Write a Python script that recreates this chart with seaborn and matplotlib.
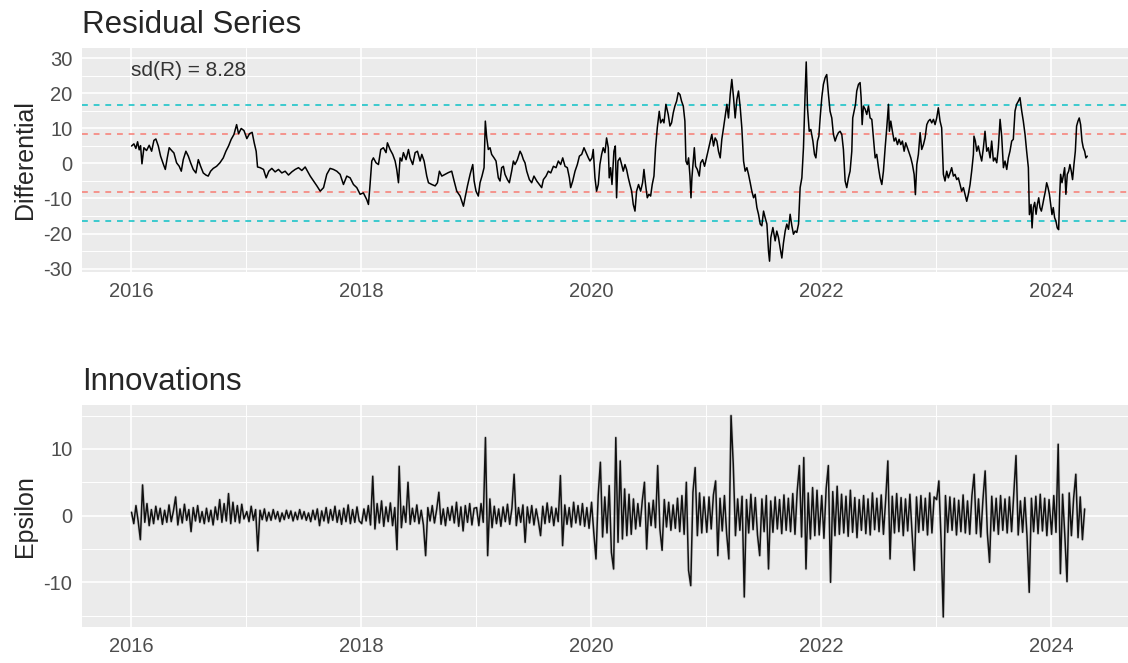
import matplotlib
matplotlib.use("Agg")
import matplotlib.pyplot as plt
import matplotlib.dates as mdates
import seaborn as sns
import pandas as pd

# residual series (decimal year, value)
res_year = [
    2016.006, 2016.026, 2016.043, 2016.058, 2016.072, 2016.084, 2016.096, 2016.113, 2016.136, 2016.159,
    2016.180, 2016.200, 2016.217, 2016.238, 2016.258, 2016.281, 2016.299, 2016.316, 2016.333, 2016.354,
    2016.374, 2016.397, 2016.420, 2016.438, 2016.455, 2016.478, 2016.499, 2016.519, 2016.542, 2016.565,
    2016.586, 2016.606, 2016.629, 2016.652, 2016.672, 2016.693, 2016.716, 2016.745, 2016.774, 2016.803,
    2016.826, 2016.849, 2016.872, 2016.896, 2016.919, 2016.936, 2016.959, 2016.983, 2017.006, 2017.029,
    2017.052, 2017.070, 2017.087, 2017.099, 2017.122, 2017.151, 2017.174, 2017.197, 2017.223, 2017.252,
    2017.281, 2017.310, 2017.339, 2017.368, 2017.397, 2017.426, 2017.455, 2017.484, 2017.513, 2017.542,
    2017.557, 2017.586, 2017.615, 2017.644, 2017.673, 2017.701, 2017.730, 2017.759, 2017.788, 2017.817,
    2017.846, 2017.875, 2017.904, 2017.933, 2017.962, 2017.991, 2018.020, 2018.049, 2018.064, 2018.078,
    2018.093, 2018.107, 2018.130, 2018.151, 2018.171, 2018.194, 2018.217, 2018.229, 2018.252, 2018.275,
    2018.296, 2018.310, 2018.325, 2018.339, 2018.354, 2018.368, 2018.391, 2018.412, 2018.426, 2018.449,
    2018.470, 2018.490, 2018.513, 2018.528, 2018.548, 2018.571, 2018.586, 2018.615, 2018.644, 2018.664,
    2018.681, 2018.702, 2018.731, 2018.759, 2018.788, 2018.809, 2018.832, 2018.861, 2018.890, 2018.904,
    2018.925, 2018.948, 2018.971, 2018.983, 2019.000, 2019.020, 2019.035, 2019.052, 2019.070, 2019.081,
    2019.093, 2019.107, 2019.122, 2019.136, 2019.157, 2019.174, 2019.194, 2019.209, 2019.223, 2019.238,
    2019.252, 2019.273, 2019.290, 2019.310, 2019.325, 2019.339, 2019.360, 2019.383, 2019.397, 2019.412,
    2019.426, 2019.441, 2019.464, 2019.484, 2019.504, 2019.528, 2019.551, 2019.571, 2019.586, 2019.609,
    2019.629, 2019.650, 2019.673, 2019.696, 2019.716, 2019.736, 2019.754, 2019.774, 2019.794, 2019.812,
    2019.823, 2019.841, 2019.861, 2019.881, 2019.899, 2019.919, 2019.939, 2019.957, 2019.977, 2019.991,
    2020.009, 2020.020, 2020.035, 2020.049, 2020.064, 2020.078, 2020.093, 2020.107, 2020.122, 2020.136,
    2020.151, 2020.159, 2020.171, 2020.183, 2020.200, 2020.212, 2020.223, 2020.235, 2020.252, 2020.267,
    2020.281, 2020.296, 2020.310, 2020.325, 2020.339, 2020.354, 2020.368, 2020.383, 2020.397, 2020.414,
    2020.432, 2020.449, 2020.461, 2020.475, 2020.490, 2020.504, 2020.519, 2020.533, 2020.548, 2020.562,
    2020.577, 2020.594, 2020.606, 2020.623, 2020.635, 2020.652, 2020.672, 2020.687, 2020.701, 2020.716,
    2020.730, 2020.745, 2020.759, 2020.774, 2020.788, 2020.803, 2020.817, 2020.826, 2020.838, 2020.849,
    2020.861, 2020.870, 2020.878, 2020.890, 2020.899, 2020.910, 2020.925, 2020.942, 2020.954, 2020.971,
    2020.988, 2021.006, 2021.023, 2021.035, 2021.049, 2021.064, 2021.078, 2021.093, 2021.107, 2021.122,
    2021.136, 2021.151, 2021.165, 2021.180, 2021.194, 2021.209, 2021.223, 2021.238, 2021.252, 2021.267,
    2021.281, 2021.296, 2021.310, 2021.325, 2021.339, 2021.354, 2021.368, 2021.383, 2021.397, 2021.412,
    2021.426, 2021.441, 2021.455, 2021.470, 2021.484, 2021.499, 2021.513, 2021.528, 2021.542, 2021.551,
    2021.562, 2021.580, 2021.600, 2021.614, 2021.629, 2021.643, 2021.658, 2021.672, 2021.687, 2021.701,
    2021.716, 2021.730, 2021.745, 2021.759, 2021.774, 2021.788, 2021.803, 2021.817, 2021.832, 2021.846,
    2021.861, 2021.870, 2021.881, 2021.896, 2021.910, 2021.928, 2021.942, 2021.954, 2021.968, 2021.980,
    2021.991, 2022.006, 2022.020, 2022.035, 2022.049, 2022.064, 2022.078, 2022.093, 2022.107, 2022.122,
    2022.136, 2022.151, 2022.165, 2022.180, 2022.194, 2022.209, 2022.223, 2022.238, 2022.252, 2022.267,
    2022.275, 2022.287, 2022.299, 2022.310, 2022.325, 2022.339, 2022.348, 2022.357, 2022.368, 2022.383,
    2022.397, 2022.412, 2022.426, 2022.441, 2022.455, 2022.470, 2022.484, 2022.499, 2022.513, 2022.528,
    2022.542, 2022.557, 2022.571, 2022.586, 2022.594, 2022.606, 2022.620, 2022.635, 2022.649, 2022.664,
    2022.678, 2022.693, 2022.707, 2022.722, 2022.736, 2022.751, 2022.765, 2022.780, 2022.794, 2022.809,
    2022.820, 2022.832, 2022.846, 2022.861, 2022.875, 2022.890, 2022.904, 2022.919, 2022.933, 2022.948,
    2022.962, 2022.977, 2022.991, 2023.006, 2023.020, 2023.035, 2023.049, 2023.064, 2023.078, 2023.093,
    2023.107, 2023.122, 2023.136, 2023.151, 2023.165, 2023.180, 2023.194, 2023.209, 2023.223, 2023.238,
    2023.252, 2023.267, 2023.281, 2023.296, 2023.310, 2023.325, 2023.330, 2023.342, 2023.354, 2023.368,
    2023.383, 2023.397, 2023.412, 2023.426, 2023.441, 2023.455, 2023.470, 2023.484, 2023.499, 2023.513,
    2023.528, 2023.542, 2023.557, 2023.571, 2023.586, 2023.600, 2023.615, 2023.629, 2023.643, 2023.658,
    2023.672, 2023.687, 2023.701, 2023.716, 2023.730, 2023.745, 2023.759, 2023.774, 2023.788, 2023.803,
    2023.812, 2023.826, 2023.835, 2023.846, 2023.858, 2023.870, 2023.881, 2023.893, 2023.904, 2023.916,
    2023.928, 2023.939, 2023.951, 2023.962, 2023.974, 2023.986, 2023.997, 2024.009, 2024.020, 2024.032,
    2024.043, 2024.055, 2024.067, 2024.075, 2024.084, 2024.096, 2024.107, 2024.119, 2024.130, 2024.142,
    2024.154, 2024.165, 2024.177, 2024.188, 2024.200, 2024.212, 2024.223, 2024.235, 2024.246, 2024.258,
    2024.270, 2024.281, 2024.293, 2024.304, 2024.316,
]
res_val = [
    5.0, 5.6, 4.3, 6.2, 3.9, 5.1, -0.1, 4.5, 3.7, 5.2,
    3.5, 6.6, 7.0, 5.0, 2.1, -0.1, -1.7, 1.6, 4.5, 3.7,
    3.0, 0.2, -0.8, -2.2, 1.1, 3.5, 2.1, 0.2, -1.7, -2.7,
    1.1, -0.8, -2.7, -3.3, -3.6, -2.2, -1.4, -0.8, 0.2, 1.6,
    3.5, 5.0, 6.9, 8.3, 11.1, 8.5, 10.0, 9.4, 7.1, 8.5,
    8.9, 5.9, 3.5, -1.0, -1.2, -1.7, -4.1, -2.2, -1.4, -2.4,
    -1.7, -2.7, -2.2, -3.3, -2.4, -1.7, -1.2, -2.0, -1.0, -2.7,
    -3.6, -5.0, -6.4, -7.9, -6.9, -3.1, -1.4, -1.7, -2.2, -3.1,
    -6.0, -3.6, -4.1, -6.0, -6.9, -8.8, -8.4, -10.3, -11.7, -6.0,
    0.7, 1.6, 0.2, -0.3, 4.0, 4.5, 3.1, 5.9, 4.0, 2.6,
    0.7, -1.7, -5.5, 1.6, 0.7, 3.1, 1.1, 4.0, 1.6, -0.3,
    3.1, 3.5, 0.7, 2.6, 0.7, -3.6, -5.5, -6.0, -6.4, -5.5,
    -2.2, -3.6, -3.1, -2.6, -2.2, -5.0, -7.9, -9.3, -12.2, -9.8,
    -6.4, -3.1, -0.3, -5.0, -7.9, -9.3, -5.5, -3.6, -1.2, 12.1,
    7.4, 4.0, 4.5, 2.6, 1.6, 0.7, -4.1, -5.0, -1.2, -0.8,
    -3.1, -4.6, -5.5, -2.2, 0.7, -0.3, 1.1, 3.5, 2.6, 1.1,
    0.2, -2.2, -4.6, -5.5, -3.6, -5.0, -6.0, -6.9, -4.6, -3.6,
    -2.2, -2.7, -0.8, -1.2, 0.7, -0.3, 1.6, -0.8, -1.2, -4.1,
    -6.9, -5.0, -2.2, -0.3, 2.1, 2.6, 4.5, 3.1, 1.6, 0.7,
    1.6, 4.0, -4.1, -7.9, -6.0, -0.3, 2.6, 4.5, 3.1, 7.3,
    4.5, -4.1, -1.2, -6.0, 3.5, 5.0, -9.8, 0.7, 1.6, -0.3,
    -2.2, -0.3, -1.7, -4.1, -6.0, -7.9, -11.7, -13.6, -7.9, -6.0,
    -7.9, -5.5, -1.7, -6.0, -9.8, -8.8, -9.3, -6.0, -3.6, 4.5,
    10.2, 14.9, 11.6, 12.6, 11.6, 16.9, 14.0, 10.7, 11.6, 14.5,
    16.4, 17.8, 20.2, 19.7, 17.8, 16.4, 12.1, 0.7, -0.3, 1.6,
    -3.6, -9.8, -4.1, 0.7, 4.5, -0.8, -1.7, -3.6, 0.2, 1.1,
    -0.8, 2.1, 4.5, 6.4, 8.3, 5.0, 7.3, 6.4, 3.5, 1.6,
    6.9, 10.2, 13.5, 16.9, 13.0, 19.7, 24.0, 18.8, 13.0, 18.3,
    20.7, 16.0, 10.2, 0.7, -2.2, -1.2, -3.1, -5.5, -7.9, -9.8,
    -8.8, -12.6, -14.5, -17.3, -17.8, -13.6, -15.5, -17.3, -25.0, -27.9,
    -21.2, -18.3, -22.1, -19.3, -21.2, -24.1, -27.0, -22.7, -19.3, -17.3,
    -18.8, -14.5, -17.8, -20.2, -19.3, -19.7, -17.3, -6.9, -4.1, 4.5,
    20.7, 29.0, 15.9, 9.2, 9.7, 6.4, 2.6, 1.6, 6.4, 7.8,
    13.0, 18.8, 22.6, 24.5, 25.4, 19.7, 14.9, 13.0, 8.3, 6.4,
    7.8, 8.8, 9.2, 8.3, 4.0, -5.0, -6.9, -4.1, -2.2, 3.5,
    13.0, 14.9, 16.9, 20.7, 22.6, 23.1, 18.8, 11.1, 16.4, 15.5,
    14.0, 16.4, 13.0, 12.6, 7.3, 1.6, 2.6, -1.2, -4.1, -6.0,
    -2.2, 4.5, 10.2, 16.9, 9.2, 12.1, 9.2, 6.4, 7.3, 5.4,
    6.9, 5.4, 6.4, 3.5, 5.9, 4.5, 3.1, 1.6, -0.3, -3.1,
    -8.9, -0.3, 2.6, 8.8, 4.0, 5.4, 7.3, 11.1, 12.1, 12.6,
    11.6, 12.6, 11.1, 13.0, 15.9, 12.1, 10.2, -3.1, -5.0, -2.2,
    -4.1, -2.7, -1.2, -3.6, -3.1, -4.6, -4.1, -6.0, -7.9, -6.9,
    -8.8, -10.8, -8.8, -6.0, -2.2, 2.6, 7.8, 6.4, 3.5, 5.0,
    2.6, 0.7, 4.5, 9.2, 3.5, 4.5, 1.6, 6.4, 0.7, 1.6,
    0.2, 4.5, 12.6, 7.8, -1.2, 0.7, -1.7, 1.6, 3.5, 6.4,
    6.9, 15.0, 16.9, 17.8, 18.8, 15.0, 12.1, 8.3, 3.5, -1.2,
    -14.6, -11.7, -18.4, -12.6, -11.1, -14.5, -11.7, -9.8, -12.6, -13.6,
    -11.7, -9.8, -7.9, -5.5, -6.9, -8.8, -11.7, -14.6, -12.6, -15.5,
    -16.4, -18.4, -18.9, -9.8, -3.1, -5.5, -3.6, -1.2, -8.8, -3.1,
    -2.2, -0.3, -2.2, -4.6, -0.3, 3.5, 10.7, 12.1, 13.0, 11.1,
    6.4, 4.5, 3.5, 1.6, 2.1,
]
sd_r = 8.28

# innovations, weekly readings per year
innov_2016 = [0.5, -1.2, 1.5, -0.8, -3.6, 4.6, -1.0, 1.8, -1.5, 0.9, -1.2, 1.4, -0.6, 1.1, -1.3, 0.8, -1.0, 1.6,
              -0.9, 0.7, 2.8, -1.4, 1.0, -1.1, 1.7, -0.7, 0.9, -2.4, 1.2, -0.8, 1.5, -1.0, 0.6, -1.2, 1.1, -0.9,
              0.8, -1.4, 1.3, -0.6, 2.4, -1.0, 1.8, -0.8, 3.3, -1.2, 2.0, -0.9, 1.5, -1.1, 1.7, -0.5]
innov_2017 = [0.6, -0.9, 1.4, -0.7, 0.9, -5.3, 0.8, -0.6, 1.0, -0.8, 0.5, -0.7, 0.9, -0.5, 0.6, -0.9, 0.4, -0.6,
              0.8, -0.4, 0.7, -0.8, 0.5, -0.6, 0.9, -0.5, 0.6, -0.7, 0.4, -0.9, 0.8, -0.6, 1.0, -1.5, 0.7, -0.8,
              1.2, -1.1, 0.9, -0.7, 1.4, -1.0, 0.8, -1.3, 1.1, -0.9, 1.6, -1.2, 0.9, -1.0, 1.3, -0.8]
innov_2018 = [-1.2, 1.0, -0.8, 1.5, -1.4, 5.9, -2.0, 1.8, -1.1, 2.2, -1.6, 1.3, -0.9, 1.9, -1.5, 1.2, -5.1, 7.4,
              -1.8, 1.4, -1.0, 5.0, -1.3, 1.1, -0.9, 1.6, -1.2, 0.8, -1.4, -6.0, 1.2, -0.8, 1.5, -1.1, 0.9, 3.5,
              -1.3, 1.0, -1.5, 1.2, -0.7, 1.4, -1.1, 2.0, -1.6, 1.3, -2.3, 1.5, -1.0, 1.8, -1.4, 1.1]
innov_2019 = [1.2, -1.5, 1.8, -1.0, 11.7, -6.0, 2.5, -1.8, 1.4, -1.2, 1.0, -1.6, 1.3, -0.9, 1.7, -1.3, 1.1, 6.2,
              -1.5, 1.2, -1.0, 1.6, -4.0, 1.3, -1.1, 1.5, -1.4, 1.0, -0.8, -3.0, 1.4, -1.2, 1.9, -1.0, 1.3, -1.5,
              1.1, -0.9, 6.0, -4.5, 1.6, -1.3, 1.2, -1.7, 2.0, -1.1, 1.5, -1.4, 1.8, -1.6, 1.2, -1.9]
innov_2020 = [2.0, -2.5, -6.5, 3.0, 8.0, -3.2, 2.8, -2.6, 4.5, -5.5, -8.0, 11.7, -4.0, 8.2, -3.5, 4.0, -3.0, 3.2,
              -2.8, 2.5, -2.0, 1.8, -1.6, 2.2, 5.0, -5.0, 1.9, -1.5, 2.3, -1.8, 7.5, -2.0, -5.2, 2.4, -1.7, 2.0,
              -2.2, 1.6, -1.9, 2.6, -2.4, 3.0, -2.8, 5.0, -8.2, -10.5, 3.5, 7.2, -3.0, 3.4, -2.6, 2.8]
innov_2021 = [-2.5, 2.8, -2.0, 3.1, 5.2, -6.0, 2.6, -2.3, 3.0, -2.7, -6.5, 15.0, 7.7, -3.0, 2.5, -2.2, 2.9, -12.2,
              2.4, -2.6, 3.2, -2.1, 2.7, -2.9, -6.0, 2.5, -2.4, 3.0, -8.0, 2.2, -2.5, 2.8, -2.0, 2.4, -2.7, 3.1,
              -2.2, 2.6, -2.4, 3.3, -2.8, 3.6, 7.5, -3.2, 8.7, -8.0, 3.4, -3.5, 4.2, -3.0, 3.8, -2.9]
innov_2022 = [3.0, -3.4, 4.0, 7.5, -10.0, 3.6, -3.0, 4.4, -2.8, 3.2, -2.6, 2.9, -3.1, 3.8, -2.5, 2.7, -3.3, 2.4,
              -2.2, 3.0, -2.7, 2.5, -2.9, 3.4, -2.1, 2.6, -2.4, 3.1, -2.8, 2.3, 8.2, -6.5, 2.9, -2.6, 3.3, -2.4,
              2.7, -3.0, 2.5, -2.3, 3.2, -2.7, -8.2, 2.8, -2.5, 3.0, -2.2, 2.6, -2.9, 3.4, -2.6, 2.8]
innov_2023 = [2.4, 5.2, -3.6, -15.2, 3.0, -2.5, 2.8, -2.2, 2.6, -2.9, 2.3, -2.4, 3.1, -2.6, 2.2, -2.8, 3.0, 6.2,
              -2.7, 2.5, -3.2, 2.4, 6.7, -2.6, -7.0, 2.9, -2.3, 2.6, -2.8, 3.0, -2.2, 2.5, -2.6, 2.8, -2.4, 3.3,
              9.0, -2.9, 2.2, -2.5, 2.7, -3.1, -11.5, 2.6, -2.4, 2.9, -2.7, 3.2, -2.3, 2.6, -3.0, 2.4]
innov_2024 = [-2.8, 3.0, -2.5, 10.7, -8.7, 3.2, -2.9, -9.9, 3.4, -3.0, 2.6, 6.2, -3.3, 2.8, -3.6, 1.0]
innov_by_year = {2016: innov_2016, 2017: innov_2017, 2018: innov_2018, 2019: innov_2019, 2020: innov_2020,
                 2021: innov_2021, 2022: innov_2022, 2023: innov_2023, 2024: innov_2024}


def to_date(y):
    yr = int(y)
    return pd.Timestamp(f"{yr}-01-01") + pd.Timedelta(days=(y - yr) * 365.25)


res_df = pd.DataFrame({"date": [to_date(y) for y in res_year], "R": res_val})

parts = []
for yr, vals in innov_by_year.items():
    parts.append(pd.DataFrame({"date": pd.date_range(f"{yr}-01-03", periods=len(vals), freq="7D"),
                               "eps": vals}))
innov_df = pd.concat(parts, ignore_index=True)

sns.set_theme(style="darkgrid", rc={
    "axes.facecolor": "#EBEBEB",
    "grid.color": "white",
    "axes.edgecolor": "#EBEBEB",
})
plt.rcParams["font.family"] = ["Liberation Sans", "DejaVu Sans"]
plt.rcParams["axes.unicode_minus"] = False

fig = plt.figure(figsize=(11.28, 6.63), dpi=100)
ax1 = fig.add_axes([0.0727, 0.5897, 0.9273, 0.338])
ax2 = fig.add_axes([0.0727, 0.0543, 0.9273, 0.335])

xlim = (to_date(2015.574), to_date(2024.67))

# top panel
for k, col in [(1, "#F8766D"), (2, "#00BFC4")]:
    for s in (1, -1):
        ax1.axhline(s * k * sd_r, color=col, ls=(0, (3, 3)), lw=1.4, alpha=0.75, zorder=2)
sns.lineplot(data=res_df, x="date", y="R", ax=ax1, color="black", lw=1.1,
             estimator=None, sort=False, zorder=3)
ax1.text(to_date(2016.0), 26.5, f"sd(R) = {sd_r}", fontsize=15, color="#333333",
         ha="left", va="center")
ax1.set_ylim(-31, 33)
ax1.set_yticks(range(-30, 31, 10))
ax1.set_yticks(range(-25, 30, 10), minor=True)
ax1.set_title("Residual Series", loc="left", fontsize=22.5, pad=11)
ax1.set_ylabel("Differential", fontsize=18)

# bottom panel
sns.lineplot(data=innov_df, x="date", y="eps", ax=ax2, color="#9E9E9E", lw=2.2, alpha=0.35,
             estimator=None, sort=False, zorder=2)
sns.lineplot(data=innov_df, x="date", y="eps", ax=ax2, color="#111111", lw=1.1,
             estimator=None, sort=False, zorder=3)
ax2.set_ylim(-16.7, 16.6)
ax2.set_yticks([-10, 0, 10])
ax2.set_yticks([-15, -5, 5, 15], minor=True)
ax2.set_title("Innovations", loc="left", fontsize=22.5, pad=11)
ax2.set_ylabel("Epsilon", fontsize=18)

for ax in (ax1, ax2):
    ax.set_xlim(*xlim)
    ax.set_xlabel("")
    ax.xaxis.set_major_locator(mdates.YearLocator(2))
    ax.xaxis.set_minor_locator(mdates.YearLocator(1))
    ax.xaxis.set_major_formatter(mdates.DateFormatter("%Y"))
    ax.grid(which="major", color="white", lw=1.2)
    ax.grid(which="minor", color="white", lw=0.7)
    ax.tick_params(axis="both", which="major", length=4, width=1, color="#333333",
                   labelsize=14.5, labelcolor="#4D4D4D", pad=3)
    ax.tick_params(axis="both", which="minor", length=0)
    ax.yaxis.set_label_coords(-0.043, 0.5)
    for sp in ax.spines.values():
        sp.set_visible(False)

fig.savefig("out.png", dpi=100)
